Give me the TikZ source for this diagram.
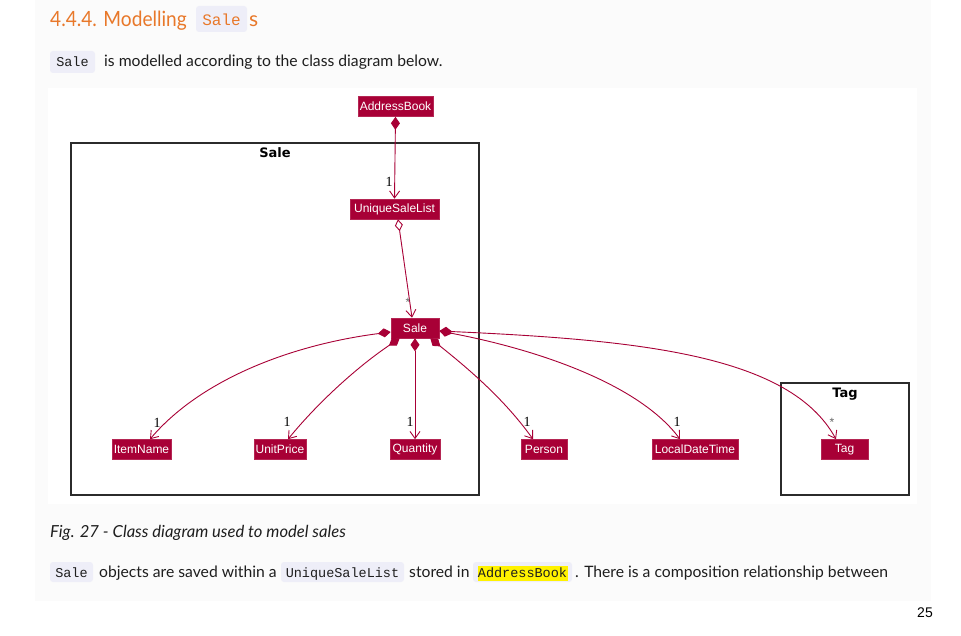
\documentclass[tikz,border=0pt]{standalone}
\usepackage{fontspec}
\setmainfont{Lato}
\setmonofont{Liberation Mono}
\newfontfamily\umlfont{Liberation Sans}
\newfontfamily\pkgfont{DejaVu Sans}
\newfontfamily\numfont{Liberation Serif}
\newfontfamily\pgnfont{Liberation Sans}
\usetikzlibrary{arrows.meta,calc}
\definecolor{uml}{HTML}{A80036}
\definecolor{titleor}{HTML}{E8782A}
\definecolor{chipbg}{HTML}{EEEEF8}
\definecolor{pagebg}{HTML}{FBFBFB}
\definecolor{bodytxt}{HTML}{1E1E1E}
\definecolor{frameclr}{HTML}{2B2B2B}
\begin{document}
\begin{tikzpicture}[x=1pt,y=-1pt,
  cls/.style={fill=uml, draw=uml!85!white, line width=0.6pt, text=white,
    font=\umlfont\fontsize{12}{12}\selectfont, inner xsep=0pt, inner ysep=0pt,
    minimum height=20pt},
  edge/.style={draw=uml, line width=0.9pt},
  compedge/.style={edge, {Diamond[length=13pt,width=9pt,fill=uml]}-{Straight Barb[length=7pt,width=10pt]}},
  aggedge/.style={edge, {Diamond[open,length=12pt,width=8pt,fill=white]}-{Straight Barb[length=7pt,width=10pt]}},
  mult/.style={font=\numfont\fontsize{14}{14}\selectfont, text=black, inner sep=0pt},
  star/.style={font=\umlfont\fontsize{12}{12}\selectfont, text=gray!80!black, inner sep=0pt},
  pkg/.style={draw=frameclr, line width=1.5pt, inner sep=0pt},
  pkglbl/.style={font=\pkgfont\bfseries\fontsize{13}{13}\selectfont, text=black, inner sep=0pt},
  body/.style={font=\fontsize{15.7}{15.7}\selectfont, text=bodytxt, inner sep=0pt, anchor=base west},
  chip/.style={fill=chipbg, rounded corners=3pt, inner sep=0pt},
  chiptxt/.style={font=\ttfamily\fontsize{13.5}{13.5}\selectfont, text=bodytxt, inner sep=0pt, anchor=base},
]
\useasboundingbox (0,0) rectangle (961,636);
% backgrounds
\fill[white] (0,0) rectangle (961,636);
\fill[pagebg] (35,0) rectangle (931,601);
\fill[white] (48,88) rectangle (917,504);

% title
\node[font=\fontsize{21}{21}\selectfont, text=titleor, inner sep=0pt, anchor=base west] (title) at (50,27) {\scalebox{0.91}[1]{4.4.4. Modelling}};
\fill[chip] (196,6) rectangle (247,32);
\node[font=\ttfamily\fontsize{16}{16}\selectfont, text=titleor, inner sep=0pt, anchor=base] (titlecode) at (221.5,26) {Sale};
\node[font=\fontsize{21}{21}\selectfont, text=titleor, inner sep=0pt, anchor=base west] (titles) at (249,27) {s};

% intro line
\fill[chip] (50,51) rectangle (95,73);
\node[chiptxt] (introcode) at (72.5,67) {Sale};
\node[body] (intro) at (104,67) {is modelled according to the class diagram below.};

% packages
\node[pkg, minimum width=408pt, minimum height=352pt] (salepkg) at (275,319) {};
\node[pkglbl] (salepkglbl) at (275,153) {Sale};
\node[pkg, minimum width=128pt, minimum height=112pt] (tagpkg) at (845,439) {};
\node[pkglbl] (tagpkglbl) at (845,394) {Tag};

% classes
\node[cls, minimum width=75pt] (addr) at (395.5,106.5) {AddressBook};
\node[cls, minimum width=89pt] (usl) at (394.5,209) {UniqueSaleList};
\node[cls, minimum width=48pt] (sale) at (415,328) {Sale};
\node[cls, minimum width=59pt] (item) at (141.5,449.5) {ItemName};
\node[cls, minimum width=52pt] (price) at (280,449.5) {UnitPrice};
\node[cls, minimum width=50pt] (qty) at (415,449.5) {Quantity};
\node[cls, minimum width=46pt] (person) at (544,449.5) {Person};
\node[cls, minimum width=86pt] (ldt) at (695,449.5) {LocalDateTime};
\node[cls, minimum width=47pt] (tag) at (844.5,449.5) {Tag};

% connectors
\draw[compedge] (addr.south) -- (usl.north);
\draw[aggedge] ($(usl.south)+(3.5,0)$) -- ($(sale.north)+(-3,0)$);
\draw[compedge] ($(sale.west)+(0,4)$) .. controls (290,345) and (200,380) .. ($(item.north)+(8.5,0)$);
\draw[compedge] ($(sale.south west)+(9,0)$) .. controls (360,365) and (320,400) .. ($(price.north)+(8,0)$);
\draw[compedge] (sale.south) -- (qty.north);
\draw[compedge] ($(sale.south east)+(-9,0)$) .. controls (470,370) and (505,400) .. ($(person.north)+(-11,0)$);
\draw[compedge] ($(sale.east)+(0,3)$) .. controls (540,350) and (640,385) .. ($(ldt.north)+(-15,0)$);
\draw[compedge] ($(sale.east)+(0,3)$) .. controls (640,340) and (790,355) .. ($(tag.north)+(-8.5,0)$);

% multiplicities
\node[mult] (m1) at (389,182) {1};
\node[star] (m2) at (408,302) {*};
\node[mult] (m3) at (157,423) {1};
\node[mult] (m4) at (287,422) {1};
\node[mult] (m5) at (410,422) {1};
\node[mult] (m6) at (527,422) {1};
\node[mult] (m7) at (677,422) {1};
\node[star] (m8) at (832,422) {*};

% caption
\node[body, font=\itshape\fontsize{16.6}{16.6}\selectfont, text=bodytxt] (caption) at (50,537) {Fig. 27 - Class diagram used to model sales};

% bottom line
\fill[chip] (50,562) rectangle (93,582);
\node[chiptxt] (c1) at (71.5,577) {Sale};
\node[body] (t1) at (99,577) {objects are saved within a};
\fill[chip] (281,562) rectangle (404,582);
\node[chiptxt] (c2) at (342.5,577) {UniqueSaleList};
\node[body] (t2) at (409,577) {stored in};
\fill[chip] (473,562) rectangle (572,582);
\fill[yellow] (478,566) rectangle (568,581);
\node[chiptxt] (c3) at (522.5,577) {AddressBook};
\node[body] (t3) at (575,577) {. There is a composition relationship between};

% page number
\node[font=\pgnfont\fontsize{14}{14}\selectfont, text=black, inner sep=0pt, anchor=base east] (pgn) at (933,617) {25};
\end{tikzpicture}
\end{document}
